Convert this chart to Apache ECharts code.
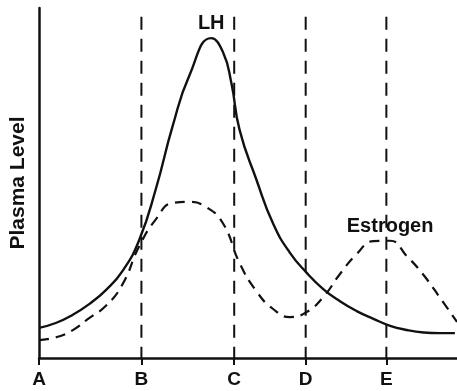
<!DOCTYPE html>
<html>
<head>
<meta charset="utf-8">
<script src="https://cdn.jsdelivr.net/npm/echarts@6/dist/echarts.min.js"></script>
<style>
  html, body { margin: 0; padding: 0; background: #fff; }
  #chart { width: 457px; height: 391px; }
</style>
</head>
<body>
<div id="chart"></div>
<script>
// Cycle stages along the time axis
const stageNames = ['A', 'B', 'C', 'D', 'E'];
const stageX = [0, 24.5, 46.7, 63.8, 83.1];
const boundaryTop = 97.5;

// LH plasma level over time [time, level]
const lhData = [
  [0, 8.6], [4, 10.0], [8, 12.3], [12, 15.4], [16, 19.4], [20, 24.9], [24, 33.8],
  [28, 48.5], [32, 66.4], [36, 80.8], [41.2, 91.4], [44, 87.4], [46, 78.7],
  [48, 65.1], [52, 51.0], [56, 38.4], [60, 30.1], [64, 24.4], [68, 19.7],
  [72, 16.2], [76, 13.4], [80, 11.2], [84, 9.2], [88, 8.0], [92, 7.3],
  [96, 7.1], [99.5, 7.1]
];

// Estrogen plasma level over time [time, level]
const estrogenData = [
  [0, 5.1], [4, 5.9], [8, 7.9], [12, 11.4], [16, 14.9], [20, 21.1], [24, 32.0],
  [28, 39.7], [32, 44.3], [36, 44.6], [40, 43.1], [44, 38.5], [48, 27.1],
  [52, 19.1], [56, 14.0], [60, 11.7], [64, 13.1], [68, 17.4], [72, 24.0],
  [76, 29.7], [80, 33.4], [84, 33.5], [88, 29.1], [92, 23.7], [96, 17.1],
  [100, 10.3]
];

const curveNames = ['LH', 'Estrogen'];
// Time window in which each curve's name sits above its highest point
const labelWindows = [[30, 60], [70, 100]];
const yAxisName = 'Plasma Level';

const INK = '#111';
const FONT = '"Liberation Sans", Arial, Helvetica, sans-serif';

function peakIn(data, win) {
  const inside = data.filter(p => p[0] >= win[0] && p[0] <= win[1]);
  return inside.reduce((best, p) => (p[1] > best[1] ? p : best), inside[0]);
}

function peakLabel(data, text, win) {
  return {
    symbol: 'circle',
    symbolSize: 1,
    itemStyle: { color: 'rgba(0,0,0,0)' },
    label: {
      show: true,
      position: 'top',
      distance: 4,
      formatter: text,
      color: INK,
      fontFamily: FONT,
      fontWeight: 'bold',
      fontSize: 20
    },
    data: [{ coord: peakIn(data, win) }]
  };
}

const boundarySeries = stageX.slice(1).map(x => ({
  type: 'line',
  data: [[x, boundaryTop], [x, 0]],
  symbol: 'none',
  silent: true,
  lineStyle: { color: INK, width: 2, type: [13, 9] },
  z: 1
}));

const chart = echarts.init(document.getElementById('chart'), null, { renderer: 'canvas' });
chart.setOption({
  animation: false,
  backgroundColor: '#fff',
  grid: { left: 37, right: 0, top: 8, bottom: 33 },
  xAxis: {
    type: 'value',
    min: 0,
    max: 100,
    splitLine: { show: false },
    axisLine: { show: true, onZero: false, lineStyle: { color: INK, width: 2.5 } },
    axisTick: { show: true, customValues: stageX, length: 7, lineStyle: { color: INK, width: 2 } },
    axisLabel: {
      show: true,
      customValues: stageX,
      margin: 12,
      color: INK,
      fontFamily: FONT,
      fontWeight: 'bold',
      fontSize: 19,
      formatter: v => {
        let idx = 0;
        stageX.forEach((s, i) => { if (Math.abs(s - v) < Math.abs(stageX[idx] - v)) idx = i; });
        return stageNames[idx];
      }
    }
  },
  yAxis: {
    type: 'value',
    min: 0,
    max: 100,
    name: yAxisName,
    nameLocation: 'middle',
    nameGap: 10,
    nameTextStyle: { color: INK, fontFamily: FONT, fontWeight: 'bold', fontSize: 21 },
    splitLine: { show: false },
    axisLine: { show: true, onZero: false, lineStyle: { color: INK, width: 2.5 } },
    axisTick: { show: false },
    axisLabel: { show: false }
  },
  series: [
    ...boundarySeries,
    {
      name: curveNames[0],
      type: 'line',
      data: lhData,
      smooth: 0.5,
      symbol: 'none',
      lineStyle: { color: INK, width: 2.4 },
      markPoint: peakLabel(lhData, curveNames[0], labelWindows[0]),
      z: 3
    },
    {
      name: curveNames[1],
      type: 'line',
      data: estrogenData,
      smooth: 0.5,
      symbol: 'none',
      lineStyle: { color: INK, width: 2.2, type: [10, 7] },
      markPoint: peakLabel(estrogenData, curveNames[1], labelWindows[1]),
      z: 2
    }
  ]
});
</script>
</body>
</html>
